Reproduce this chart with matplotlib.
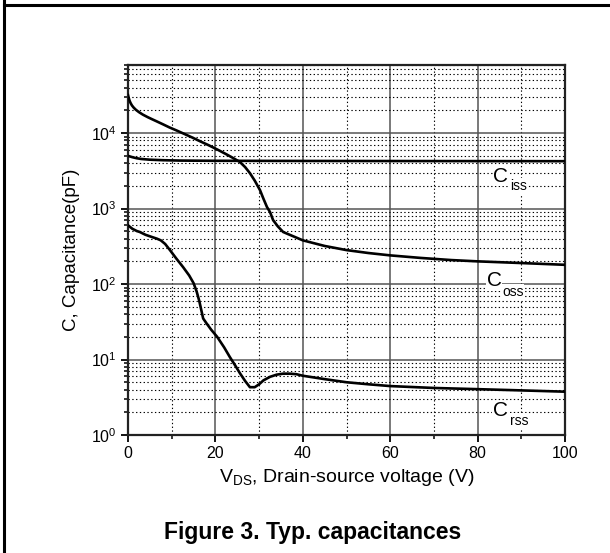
import matplotlib
matplotlib.use("Agg")
import matplotlib.pyplot as plt
from matplotlib.ticker import LogLocator, MultipleLocator, LogFormatterMathtext, NullFormatter
from matplotlib.lines import Line2D

plt.rcParams['font.family'] = ['Liberation Sans', 'DejaVu Sans']
plt.rcParams['mathtext.fontset'] = 'custom'
plt.rcParams['mathtext.rm'] = 'Liberation Sans'
plt.rcParams['mathtext.default'] = 'regular'

# ---- data ----
ciss_v = [0, 0.5, 1, 2, 3, 5, 8, 12, 20, 30, 40, 60, 80, 100]
ciss_c = [5000, 4900, 4800, 4650, 4550, 4450, 4380, 4330, 4300, 4290, 4280, 4270, 4260, 4250]

coss_v = [0, 0.15, 0.35, 0.6, 0.9, 1.3, 1.8, 2.5, 3.4, 4.5, 5.5, 6.6, 8, 9.5, 11.2, 13, 14.8,
          16.5, 18.5, 20.6, 22.5, 24, 25.6, 26.8, 27.9, 29, 30.2, 31, 31.8, 32.5, 33.2, 34.3,
          35.5, 37, 40, 45, 50, 55, 60, 67, 74, 80, 90, 100]
coss_c = [32000, 29500, 27000, 25000, 23300, 21800, 20400, 19000, 17600, 16300, 15300, 14300,
          13100, 11900, 10800, 9700, 8700, 7800, 6900, 6000, 5250, 4700, 4150, 3550, 2950, 2350,
          1760, 1350, 1050, 900, 705, 580, 490, 450, 380, 320, 282, 258, 240, 222, 208, 200,
          190, 180]

crss_v = [0, 0.5, 1, 2, 2.7, 4, 5.5, 6.6, 7.5, 8.5, 9.6, 11, 12.6, 14, 15, 15.7, 16.3, 17.2, 18,
          19, 20.4, 22, 23.3, 24.5, 25.6, 26.8, 27.9, 29, 30, 31, 32.5, 34, 35.5, 37, 38.5, 40,
          45, 50, 55, 60, 70, 80, 90, 100]
crss_c = [600, 570, 540, 505, 490, 450, 420, 400, 380, 340, 282, 220, 168, 130, 103, 80, 60, 35, 30,
          25, 20, 14.5, 10.8, 8.4, 6.6, 5.2, 4.3, 4.3, 4.7, 5.3, 5.9, 6.3, 6.5, 6.5, 6.4, 6.1,
          5.5, 5.0, 4.7, 4.45, 4.2, 4.05, 3.9, 3.75]

x_ticks = [0, 20, 40, 60, 80, 100]
x_label = "V$_{\\mathregular{DS}}$, Drain-source voltage (V)"
y_label = "C, Capacitance(pF)"
title = "Figure 3. Typ. capacitances"
curve_names = [("C", "iss"), ("C", "oss"), ("C", "rss")]

W, H = 610, 553
fig = plt.figure(figsize=(W / 100, H / 100), dpi=100)

# outer table-like border (top and left)
fig.add_artist(Line2D([4 / W, 1.0], [1 - 5 / H, 1 - 5 / H], transform=fig.transFigure,
                      color='black', lw=2.2))
fig.add_artist(Line2D([4 / W, 4 / W], [0, 1.0], transform=fig.transFigure,
                      color='black', lw=2.2))

L, R, T, B = 128, 565, 65, 435
ax = fig.add_axes([L / W, 1 - B / H, (R - L) / W, (B - T) / H])
ax.set_yscale('log')
ax.set_xlim(0, 100)
ax.set_ylim(1, 8e4)

ax.set_xticks(x_ticks)
ax.xaxis.set_minor_locator(MultipleLocator(10))
ax.yaxis.set_major_locator(LogLocator(base=10, numticks=10))
ax.yaxis.set_minor_locator(LogLocator(base=10, subs=range(2, 10), numticks=20))
ax.yaxis.set_major_formatter(LogFormatterMathtext())
ax.yaxis.set_minor_formatter(NullFormatter())

ax.grid(which='major', color='#555555', lw=1.1, ls='-')
ax.grid(which='minor', color='black', lw=0.8, ls=(0, (1.2, 2.2)))
ax.set_axisbelow(True)

for s in ax.spines.values():
    s.set_linewidth(1.6)
    s.set_color('#222222')

ax.tick_params(which='major', direction='out', length=5, width=1.3, labelsize=11.5, pad=3)
ax.tick_params(which='minor', direction='out', length=3, width=1.1)

ax.plot(ciss_v, ciss_c, color='black', lw=1.9, solid_joinstyle='round', zorder=3)
ax.plot(coss_v, coss_c, color='black', lw=1.9, solid_joinstyle='round', zorder=3)
ax.plot(crss_v, crss_c, color='black', lw=1.9, solid_joinstyle='round', zorder=3)

ax.set_xlabel(x_label, fontsize=14, labelpad=4)
ax.set_ylabel(y_label, fontsize=13.5, labelpad=8)

# curve labels (pixel centres -> axes fraction)
def afrac(px, py):
    return (px - L) / (R - L), (B - py) / (B - T)

label_pos = [((501, 176), (519, 186)), ((494, 281), (513, 292)), ((500, 411), (519, 421))]
bb = dict(facecolor='white', edgecolor='none', pad=0.5)
for (big, small), (p1, p2) in zip(curve_names, label_pos):
    x1, y1 = afrac(*p1)
    x2, y2 = afrac(*p2)
    ax.text(x1, y1, big, transform=ax.transAxes, fontsize=15, ha='center', va='center',
            bbox=bb, zorder=4)
    ax.text(x2, y2, small, transform=ax.transAxes, fontsize=10, ha='center', va='center',
            bbox=bb, zorder=4)

fig.text(0.5 * (158 + 468) / W, 1 - 532 / H, title, fontsize=16.5, fontweight='bold',
         ha='center', va='center')

fig.savefig('out.png', dpi=100)
